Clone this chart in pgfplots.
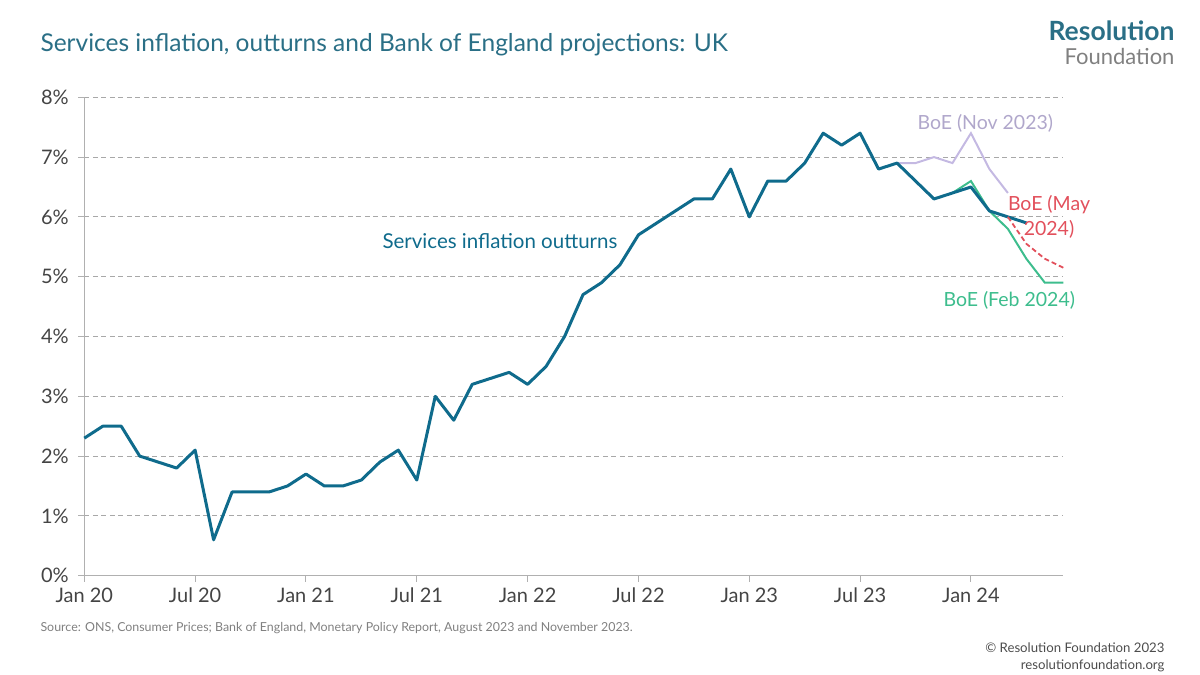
\documentclass[border=0pt]{standalone}
\usepackage{pgfplots}
\pgfplotsset{compat=1.18}
\usepackage{fontspec}
\setmainfont{Lato}
\definecolor{teal}{HTML}{0F6B8C}
\definecolor{titlec}{HTML}{2A6F86}
\definecolor{lav}{HTML}{C4B9E2}
\definecolor{redc}{HTML}{E2505C}
\definecolor{greenc}{HTML}{3DBD8D}
\definecolor{gridc}{HTML}{A8A8A8}
\definecolor{axc}{HTML}{B0B0B0}
\definecolor{tickc}{HTML}{444444}
\pgfplotstableread{
x y
0 2.3
1 2.5
2 2.5
3 2.0
4 1.9
5 1.8
6 2.1
7 0.6
8 1.4
9 1.4
10 1.4
11 1.5
12 1.7
13 1.5
14 1.5
15 1.6
16 1.9
17 2.1
18 1.6
19 3.0
20 2.6
21 3.2
22 3.3
23 3.4
24 3.2
25 3.5
26 4.0
27 4.7
28 4.9
29 5.2
30 5.7
31 5.9
32 6.1
33 6.3
34 6.3
35 6.8
36 6.0
37 6.6
38 6.6
39 6.9
40 7.4
41 7.2
42 7.4
43 6.8
44 6.9
45 6.6
46 6.3
47 6.4
48 6.5
49 6.1
50 6.0
51 5.9
}\outturn
\pgfplotstableread{
x y
44 6.9
45 6.9
46 7.0
47 6.9
48 7.4
49 6.8
50 6.4
}\novproj
\pgfplotstableread{
x y
47 6.4
48 6.6
49 6.1
50 5.8
51 5.3
52 4.9
53 4.9
}\febproj
\pgfplotstableread{
x y
50 6.0
51 5.55
52 5.3
53 5.15
}\mayproj
\begin{document}
\begin{tikzpicture}[x=1pt,y=1pt]
\path[use as bounding box] (0,0) rectangle (1200,675);
\begin{axis}[
  at={(84.3pt,99.3pt)}, anchor=south west,
  scale only axis, width=979pt, height=478.4pt,
  xmin=0, xmax=53, ymin=0, ymax=8,
  axis lines*=left,
  axis line style={draw=axc, line width=1pt},
  xtick={0,6,...,48},
  xticklabels={Jan 20,Jul 20,Jan 21,Jul 21,Jan 22,Jul 22,Jan 23,Jul 23,Jan 24},
  ytick={0,1,...,8},
  yticklabel={\pgfmathprintnumber{\tick}\%},
  tick style={draw=axc, line width=1pt},
  tick align=outside, major tick length=6pt,
  ymajorgrids, grid style={draw=gridc, dashed, line width=0.9pt, dash pattern=on 5pt off 3.5pt},
  ticklabel style={font=\fontsize{20}{23}\selectfont, text=tickc},
  /pgf/number format/assume math mode=true,
  xticklabel style={yshift=-3pt},
  yticklabel style={xshift=-6pt},
  clip=false,
]
\addplot[lav, line width=2pt] table[x=x,y=y]{\novproj};
\addplot[greenc, line width=2pt] table[x=x,y=y]{\febproj};
\addplot[teal, line width=3pt, line join=round] table[x=x,y=y]{\outturn};
\addplot[redc, line width=1.8pt, dash pattern=on 5pt off 3pt] table[x=x,y=y]{\mayproj};
\end{axis}
% titles
\node[anchor=base west, text=titlec, font=\fontsize{24.5}{28}\selectfont] at (37,623) {Services inflation, outturns and Bank of England projections: UK};
\node[anchor=east, text=titlec, font=\fontsize{26.5}{30}\selectfont\bfseries] at (1178,644) {Resolution};
\node[anchor=east, text=black!50, font=\fontsize{22}{26}\selectfont] at (1178,619) {Foundation};
\node[anchor=west, text=black!50, font=\fontsize{12.4}{15}\selectfont] at (37,47) {Source: ONS, Consumer Prices; Bank of England, Monetary Policy Report, August 2023 and November 2023.};
\node[anchor=east, text=black!70, font=\fontsize{13.2}{16}\selectfont] at (1168,27) {\textcopyright{} Resolution Foundation 2023};
\node[anchor=east, text=black!70, font=\fontsize{13.2}{16}\selectfont] at (1168,9) {resolutionfoundation.org};
% annotations
\node[anchor=west, text=teal, font=\fontsize{20.5}{24}\selectfont] at (379,434) {Services inflation outturns};
\node[anchor=west, text=lav!90!black, font=\fontsize{19.5}{23}\selectfont] at (914,552) {BoE (Nov 2023)};
\node[anchor=center, align=center, text=redc, font=\fontsize{19.5}{24.5}\selectfont] at (1049,458) {BoE (May\\2024)};
\node[anchor=west, text=greenc, font=\fontsize{19.5}{23}\selectfont] at (940,375) {BoE (Feb 2024)};
\end{tikzpicture}
\end{document}
